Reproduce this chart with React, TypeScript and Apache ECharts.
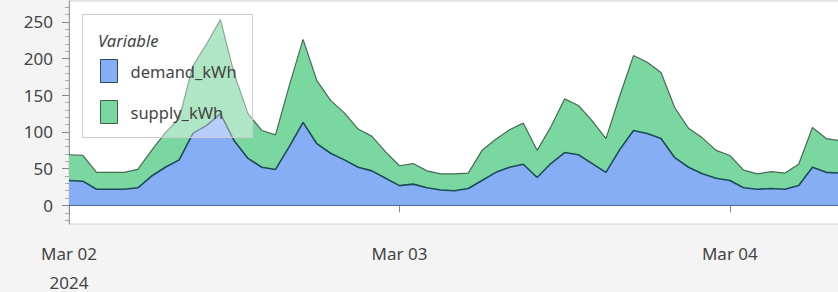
import React, { useEffect, useRef } from "react";
import * as echarts from "echarts";

const HOUR = 3600 * 1000;
const START = Date.UTC(2024, 2, 2, 0, 0, 0);

const demand_kWh = [
  34, 33, 22, 22, 22, 24, 40, 52, 62, 98,
  109, 125, 88, 64, 52, 49, 80, 113, 84, 71,
  62, 52, 47, 37, 27, 29, 24, 21, 20, 23,
  34, 45, 52, 56, 38, 57, 72, 69, 57, 45,
  76, 102, 98, 91, 65, 52, 43, 37, 34, 24,
  22, 23, 22, 27, 52, 45, 44,
];
const supply_kWh = [
  35, 35, 23, 23, 23, 25, 35, 47, 56, 92,
  111, 128, 91, 61, 50, 47, 83, 113, 86, 72,
  64, 52, 47, 36, 27, 28, 23, 22, 23, 21,
  41, 45, 51, 56, 37, 50, 73, 67, 58, 46,
  73, 102, 97, 90, 68, 53, 49, 38, 34, 24,
  21, 23, 22, 29, 54, 46, 44,
];
// hourly timestamps, one per value
const timeCategories = demand_kWh.map((_, i) =>
  new Date(START + i * HOUR).toISOString().slice(0, 16).replace("T", " ")
);

const yTicks = [0, 50, 100, 150, 200, 250];
const xTickLabels: Record<string, string> = {
  "2024-03-02 00:00": "Mar 02",
  "2024-03-03 00:00": "Mar 03",
  "2024-03-04 00:00": "Mar 04",
};
const yearLabel = "2024";
const seriesNames = ["demand_kWh", "supply_kWh"];
const legendTitle = "Variable";

const FONT = "Noto Sans";
const TEXT = "#444444";
const DEMAND_FILL = "#86aef5";
const SUPPLY_FILL = "#7bd7a0";

export default function App() {
  const ref = useRef<HTMLDivElement>(null);
  useEffect(() => {
    if (!ref.current) return;
    const chart = echarts.init(ref.current, null, { renderer: "svg" });
    const yMin = -25.3;
    const yMax = 278.3;
    const isTick = (_i: number, v: string) => v in xTickLabels;
    chart.setOption({
      animation: false,
      backgroundColor: "#f4f4f4",
      textStyle: { fontFamily: FONT },
      grid: {
        left: 69,
        top: 1,
        width: 771,
        height: 223,
        outerBoundsMode: "none",
        containLabel: false,
        show: true,
        backgroundColor: "#ffffff",
        borderColor: "#d0d0d0",
        borderWidth: 1,
      },
      xAxis: {
        type: "category",
        boundaryGap: false,
        data: timeCategories,
        axisLine: { show: true, lineStyle: { color: "#999999", width: 1 } },
        axisTick: {
          show: true,
          length: 7,
          interval: isTick,
          lineStyle: { color: "#888888" },
        },
        axisLabel: {
          interval: isTick,
          margin: 19,
          color: TEXT,
          fontFamily: FONT,
          fontSize: 17,
          lineHeight: 20,
          formatter: (v: string) => xTickLabels[v] ?? "",
        },
        splitLine: { show: false },
      },
      yAxis: {
        type: "value",
        min: yMin,
        max: yMax,
        splitNumber: 5,
        axisLine: { show: true, lineStyle: { color: "#999999", width: 1 } },
        axisTick: {
          show: true,
          length: 7,
          customValues: yTicks,
          lineStyle: { color: "#888888" },
        },
        minorTick: {
          show: true,
          splitNumber: 5,
          length: 4,
          lineStyle: { color: "#aaaaaa" },
        },
        axisLabel: {
          customValues: yTicks,
          margin: 16,
          color: TEXT,
          fontFamily: FONT,
          fontSize: 17,
        },
        splitLine: { show: false },
        minorSplitLine: { show: false },
      },
      legend: {
        orient: "vertical",
        left: 100,
        top: 59,
        padding: 0,
        itemWidth: 17,
        itemHeight: 23,
        itemGap: 17,
        icon: "rect",
        z: 5,
        textStyle: {
          color: TEXT,
          fontFamily: FONT,
          fontSize: 16.5,
          padding: [0, 0, 0, 8],
        },
        data: [
          {
            name: seriesNames[0],
            itemStyle: { color: DEMAND_FILL, borderColor: "#2a4a60", borderWidth: 1 },
          },
          {
            name: seriesNames[1],
            itemStyle: { color: SUPPLY_FILL, borderColor: "#3d5e4d", borderWidth: 1 },
          },
        ],
      },
      graphic: [
        {
          type: "rect",
          z: 4,
          silent: true,
          shape: { x: 82.5, y: 14.5, width: 170, height: 123 },
          style: { fill: "rgba(255,255,255,0.4)", stroke: "#cccccc", lineWidth: 1 },
        },
        {
          type: "text",
          z: 6,
          silent: true,
          x: 98,
          y: 40,
          style: {
            text: legendTitle,
            fill: TEXT,
            font: `italic 16.5px "${FONT}"`,
            verticalAlign: "middle",
            align: "left",
          },
        },
        {
          type: "text",
          z: 6,
          silent: true,
          x: 69,
          y: 282,
          style: {
            text: yearLabel,
            fill: TEXT,
            font: `17px "${FONT}"`,
            verticalAlign: "middle",
            align: "center",
          },
        },
      ],
      series: [
        {
          name: seriesNames[0],
          type: "line",
          stack: "total",
          z: 3,
          symbol: "none",
          data: demand_kWh,
          lineStyle: { color: "#1b4b57", width: 1.6 },
          itemStyle: { color: DEMAND_FILL },
          areaStyle: { color: DEMAND_FILL, opacity: 1 },
          markLine: {
            silent: true,
            symbol: "none",
            label: { show: false },
            lineStyle: { color: "#4d6da0", width: 1, type: "solid" },
            data: [{ yAxis: 0 }],
          },
        },
        {
          name: seriesNames[1],
          type: "line",
          stack: "total",
          z: 2,
          symbol: "none",
          data: supply_kWh,
          lineStyle: { color: "#476b55", width: 1.2 },
          itemStyle: { color: SUPPLY_FILL },
          areaStyle: { color: SUPPLY_FILL, opacity: 1 },
        },
      ],
    });
    return () => chart.dispose();
  }, []);
  return (
    <div
      ref={ref}
      style={{ position: "fixed", left: 0, top: 0, width: 838, height: 292 }}
    />
  );
}
